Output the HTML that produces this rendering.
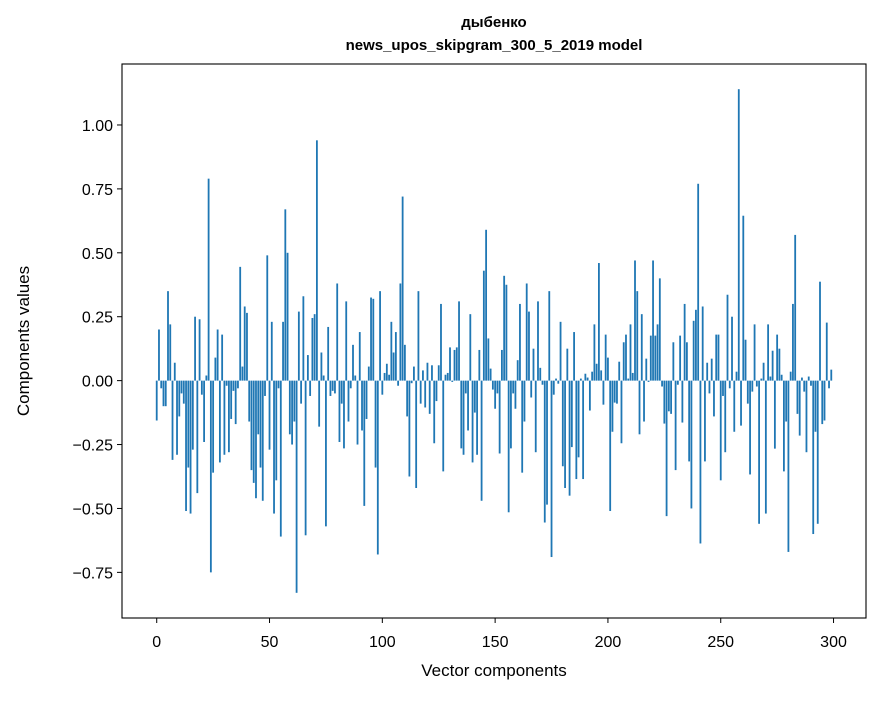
<!DOCTYPE html>
<html><head><meta charset="utf-8"><style>
html,body{margin:0;padding:0;background:#fff;}
svg text{font-family:"Liberation Sans","DejaVu Sans",sans-serif;fill:#000;}
</style></head><body>
<svg id="chart" width="880" height="696" xmlns="http://www.w3.org/2000/svg">
<rect x="0" y="0" width="880" height="696" fill="#fff"/>
<text x="494" y="27" text-anchor="middle" font-size="15" font-weight="bold">дыбенко</text>
<text x="494" y="50" text-anchor="middle" font-size="15" font-weight="bold">news_upos_skipgram_300_5_2019 model</text>
<g id="bars"></g>
<g id="axes"></g>
<text x="494" y="676" text-anchor="middle" font-size="17">Vector components</text>
<text x="0" y="0" transform="translate(29,341) rotate(-90)" text-anchor="middle" font-size="17">Components values</text>
</svg>
<script>
const values = [
-0.156,0.20,-0.03,-0.10,-0.10,0.35,0.22,-0.31,0.07,-0.29,
-0.14,-0.05,-0.09,-0.51,-0.34,-0.52,-0.27,0.25,-0.44,0.24,
-0.055,-0.24,0.02,0.79,-0.75,-0.36,0.09,0.20,-0.32,0.18,
-0.29,-0.02,-0.28,-0.15,-0.04,-0.17,-0.03,0.445,0.055,0.29,
0.265,-0.16,-0.35,-0.40,-0.46,-0.21,-0.34,-0.47,-0.06,0.49,
-0.27,0.23,-0.52,-0.39,-0.03,-0.61,0.23,0.67,0.50,-0.21,
-0.25,-0.16,-0.83,0.27,-0.09,0.33,-0.605,0.10,-0.06,0.245,
0.26,0.94,-0.18,0.11,0.02,-0.57,0.21,-0.06,-0.04,-0.05,
0.38,-0.24,-0.09,-0.265,0.31,-0.16,-0.03,0.14,0.02,-0.25,
0.19,-0.195,-0.49,-0.15,0.055,0.325,0.32,-0.34,-0.68,0.35,
-0.055,0.03,0.066,0.023,0.23,0.11,0.19,-0.02,0.38,0.72,
0.14,-0.14,-0.375,-0.01,0.055,-0.42,0.35,-0.09,0.04,-0.105,
0.07,-0.13,0.06,-0.245,-0.08,0.06,0.30,-0.355,0.023,0.03,
0.13,-0.005,0.12,0.13,0.31,-0.265,-0.29,-0.05,-0.195,0.26,
-0.32,-0.125,-0.29,0.12,-0.47,0.43,0.59,0.165,0.047,-0.035,
-0.11,-0.05,-0.285,0.12,0.41,0.375,-0.515,-0.265,-0.05,-0.11,
0.08,0.30,-0.36,-0.16,0.38,0.27,-0.066,0.125,-0.28,0.31,
0.05,-0.016,-0.555,-0.485,0.35,-0.69,-0.055,0.008,-0.012,0.23,
-0.335,-0.42,0.125,-0.45,-0.26,0.19,-0.385,-0.30,0.008,-0.385,
0.027,0.012,-0.117,0.035,0.22,0.066,0.46,0.04,-0.094,0.18,
0.09,-0.51,-0.20,-0.086,-0.09,0.074,-0.245,0.15,0.18,0.008,
0.22,0.03,0.47,0.35,-0.21,0.26,-0.16,0.086,-0.005,0.176,
0.47,0.176,0.22,0.40,-0.023,-0.168,-0.53,-0.12,-0.13,0.15,
-0.35,-0.016,0.176,-0.164,0.30,0.15,-0.316,-0.50,0.234,0.277,
0.77,-0.637,0.29,-0.316,0.07,-0.05,0.086,-0.14,0.18,0.18,
-0.39,-0.06,-0.28,0.336,-0.03,0.25,-0.20,0.035,1.14,-0.176,
0.645,0.16,-0.09,-0.367,-0.043,0.22,-0.023,-0.56,0.008,0.07,
-0.52,0.22,0.016,0.117,-0.266,0.18,0.125,0.023,-0.355,-0.16,
-0.67,0.035,0.30,0.57,-0.13,-0.215,0.012,-0.043,-0.28,0.016,
-0.02,-0.60,-0.20,-0.56,0.387,-0.17,-0.156,0.227,-0.03,0.043
];
const xTicks = [0,50,100,150,200,250,300];
const yTicks = [-0.75,-0.50,-0.25,0.00,0.25,0.50,0.75,1.00];
const yTickLabels = ["\u22120.75","\u22120.50","\u22120.25","0.00","0.25","0.50","0.75","1.00"];

const L=122,R=866,T=64,B=618;
const n=values.length;
const xmin=-0.4, xmax=n-1+0.4, xpad=(xmax-xmin)*0.05;
const x0=xmin-xpad, x1=xmax+xpad;
const vmin=Math.min(...values), vmax=Math.max(...values);
const ypad=(vmax-vmin)*0.05;
const y0=vmin-ypad, y1=vmax+ypad;
const xs=v=>L+(v-x0)/(x1-x0)*(R-L);
const ys=v=>B-(v-y0)/(y1-y0)*(B-T);
const NS="http://www.w3.org/2000/svg";
const bars=document.getElementById('bars');
values.forEach((v,i)=>{
  const r=document.createElementNS(NS,'rect');
  const xa=xs(i-0.4), xb=xs(i+0.4);
  const ya=ys(Math.max(v,0)), yb=ys(Math.min(v,0));
  r.setAttribute('x',xa); r.setAttribute('width',xb-xa);
  r.setAttribute('y',ya); r.setAttribute('height',Math.max(yb-ya,0.3));
  r.setAttribute('fill','#1f77b4');
  
  
  bars.appendChild(r);
});
const axes=document.getElementById('axes');
const frame=document.createElementNS(NS,'rect');
frame.setAttribute('x',L);frame.setAttribute('y',T);frame.setAttribute('width',R-L);frame.setAttribute('height',B-T);
frame.setAttribute('fill','none');frame.setAttribute('stroke','#000');frame.setAttribute('stroke-width','1.1');


axes.appendChild(frame);
xTicks.forEach(t=>{
  const x=xs(t);
  const l=document.createElementNS(NS,'line');
  l.setAttribute('x1',x);l.setAttribute('x2',x);l.setAttribute('y1',B);l.setAttribute('y2',B+5);l.setAttribute('stroke','#000');
  
  
  axes.appendChild(l);
  const tx=document.createElementNS(NS,'text');
  tx.setAttribute('x',x);tx.setAttribute('y',B+29);tx.setAttribute('text-anchor','middle');tx.setAttribute('font-size','16');
  tx.textContent=String(t);
  
  
  axes.appendChild(tx);
});
yTicks.forEach((t,k)=>{
  const y=ys(t);
  const l=document.createElementNS(NS,'line');
  l.setAttribute('x1',L-5);l.setAttribute('x2',L);l.setAttribute('y1',y);l.setAttribute('y2',y);l.setAttribute('stroke','#000');
  
  
  axes.appendChild(l);
  const tx=document.createElementNS(NS,'text');
  tx.setAttribute('x',L-9);tx.setAttribute('y',y+6);tx.setAttribute('text-anchor','end');tx.setAttribute('font-size','16');
  tx.textContent=yTickLabels[k];
  
  
  axes.appendChild(tx);
});
</script>
</body></html>
